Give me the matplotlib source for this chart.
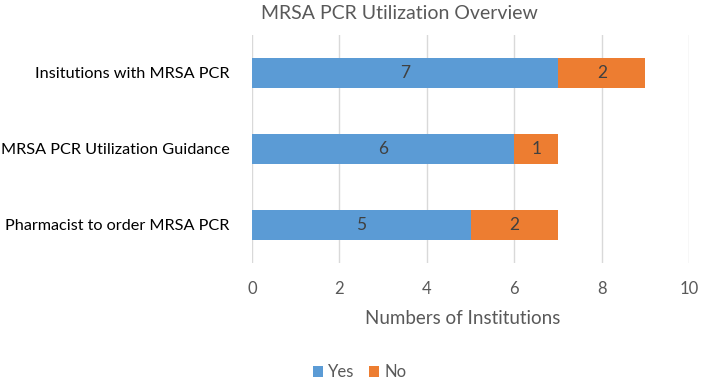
import matplotlib.pyplot as plt

categories = ["Pharmacist to order MRSA PCR", "MRSA PCR Utilization Guidance", "Insitutions with MRSA PCR"]
yes_vals = [5, 6, 7]
no_vals = [2, 1, 2]

plt.rcParams['font.family'] = ['Lato', 'DejaVu Sans']

fig = plt.figure(figsize=(7.04, 3.80), dpi=100)
ax = fig.add_axes([0.358, 0.308, 0.621, 0.600])

blue = '#5B9BD5'
orange = '#ED7D31'
b1 = ax.barh(categories, yes_vals, height=0.39, color=blue, label='Yes', zorder=3)
b2 = ax.barh(categories, no_vals, left=yes_vals, height=0.39, color=orange, label='No', zorder=3)
ax.bar_label(b1, label_type='center', color='#404040', fontsize=12.5)
ax.bar_label(b2, label_type='center', color='#404040', fontsize=12.5)

ax.set_xlim(0, 10)
ax.set_ylim(-0.5, 2.5)
ax.set_xticks(range(0, 11, 2))
ax.grid(axis='x', color='#D9D9D9', linewidth=1, zorder=0)
for s in ax.spines.values():
    s.set_visible(False)
ax.tick_params(axis='both', length=0)
ax.tick_params(axis='x', labelsize=12, labelcolor='#595959', pad=13)
ax.tick_params(axis='y', labelsize=11.7, labelcolor='black', pad=16)
ax.set_xlabel('Numbers of Institutions', fontsize=13.5, color='#595959')
ax.xaxis.set_label_coords(0.482, -0.205)

fig.text(0.568, 0.965, 'MRSA PCR Utilization Overview', fontsize=14, color='#595959',
         ha='center', va='center')

fig.legend(loc='center', bbox_to_anchor=(0.511, 0.02), ncol=2, frameon=False,
           fontsize=12, labelcolor='#595959', handlelength=0.6, handleheight=0.6,
           handletextpad=0.3, columnspacing=0.9)

fig.savefig('out.png', dpi=100)
